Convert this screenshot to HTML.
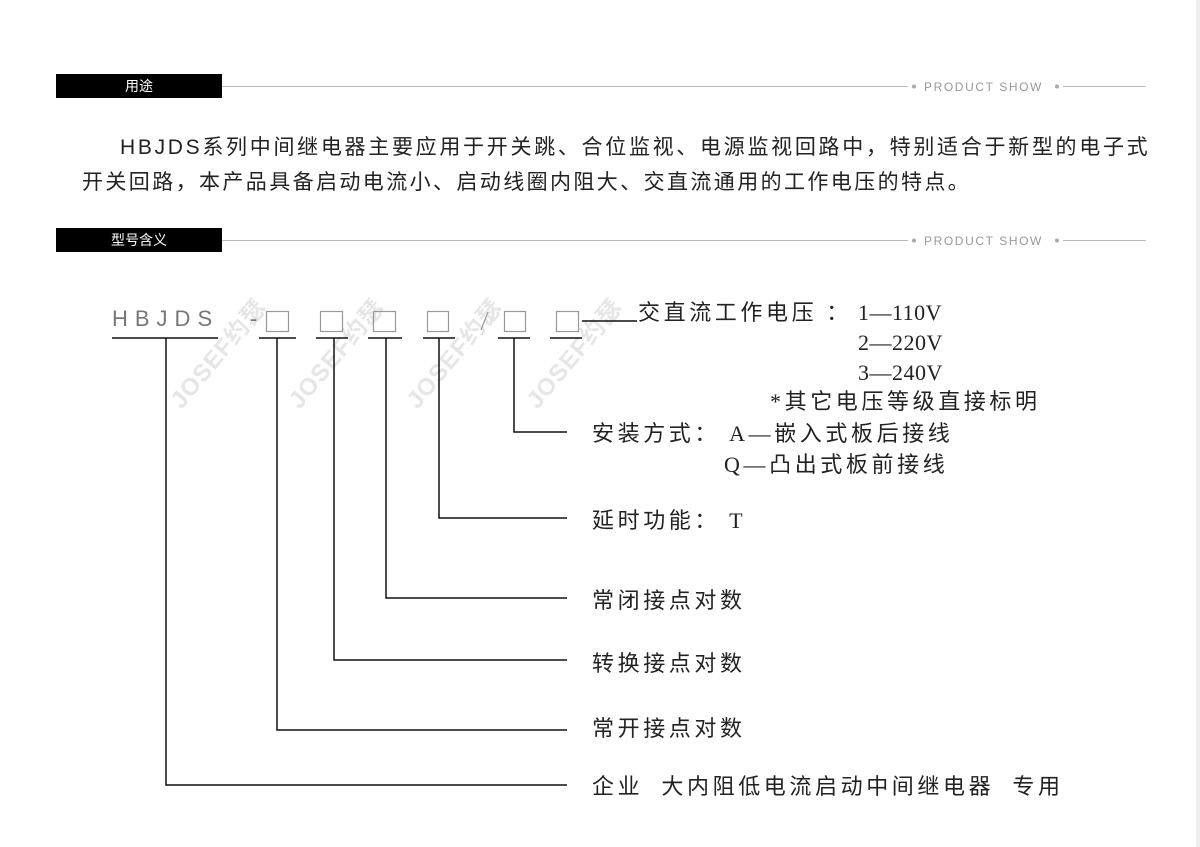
<!DOCTYPE html>
<html><head><meta charset="utf-8"><style>
html,body{margin:0;padding:0;background:#fff;}
body{width:1200px;height:847px;position:relative;overflow:hidden;font-family:"Liberation Sans","Noto Sans CJK SC",sans-serif;}
.a{position:absolute;white-space:nowrap;}
.hd{position:absolute;left:56px;width:166px;height:24px;background:#000;color:#fff;font-size:14px;line-height:24px;text-align:center;}
.ps{position:absolute;left:924px;font-size:12px;letter-spacing:1.6px;color:#999;}
.p{font-size:21px;letter-spacing:2.4px;color:#222;}
.d{font-family:"Liberation Serif","Noto Sans CJK SC",sans-serif;font-size:22px;letter-spacing:3.6px;color:#222;line-height:30px;}
.wm{position:absolute;font-size:24px;font-weight:bold;color:#e6e6e6;transform:rotate(-50deg);transform-origin:left top;letter-spacing:1px;}
</style></head><body>
<div class="wm" style="left:160px;top:392px">JOSEF约瑟</div>
<div class="wm" style="left:278px;top:392px">JOSEF约瑟</div>
<div class="wm" style="left:396px;top:392px">JOSEF约瑟</div>
<div class="wm" style="left:516px;top:392px">JOSEF约瑟</div>
<svg class="a" style="left:0;top:0" width="1200" height="847">
<rect x="1196" y="0" width="4" height="847" fill="#eee"/>
<g stroke="#bbb" stroke-width="1">
<line x1="222" y1="86.5" x2="908" y2="86.5"/><line x1="1063" y1="86.5" x2="1146" y2="86.5"/>
<line x1="222" y1="240.5" x2="908" y2="240.5"/><line x1="1063" y1="240.5" x2="1146" y2="240.5"/>
</g>
<g fill="#aaa"><circle cx="914" cy="86.5" r="2"/><circle cx="1057" cy="86.5" r="2"/><circle cx="914" cy="240.5" r="2"/><circle cx="1057" cy="240.5" r="2"/></g>
<g fill="none" stroke="#999" stroke-width="1.2">
<rect x="266.5" y="311.5" width="22" height="20"/><rect x="320.5" y="311.5" width="22" height="20"/>
<rect x="373.5" y="311.5" width="22" height="20"/><rect x="427.5" y="311.5" width="21" height="20"/>
<rect x="504.5" y="311.5" width="21" height="20"/><rect x="556.5" y="311.5" width="22" height="20"/>
<line x1="488" y1="312" x2="481" y2="330"/>
</g>
<g stroke="#111" stroke-width="1.5" fill="none">
<line x1="112" y1="338" x2="218" y2="338"/><line x1="259" y1="338" x2="296" y2="338"/>
<line x1="316" y1="338" x2="348" y2="338"/><line x1="368" y1="338" x2="402" y2="338"/>
<line x1="423" y1="338" x2="455" y2="338"/><line x1="498" y1="338" x2="530" y2="338"/>
<line x1="550" y1="338" x2="582" y2="338"/>
<line x1="582" y1="321" x2="637" y2="321"/>
<polyline points="514,338 514,432 567,432"/>
<polyline points="439,338 439,518 567,518"/>
<polyline points="386,338 386,598 567,598"/>
<polyline points="334,338 334,660 567,660"/>
<polyline points="277,338 277,730 567,730"/>
<polyline points="166,338 166,785 567,785"/>
</g>
</svg>
<div class="hd" style="top:74px">用途</div>
<div class="ps" style="top:80px">PRODUCT SHOW</div>
<div class="hd" style="top:228px">型号含义</div>
<div class="ps" style="top:234px">PRODUCT SHOW</div>
<div class="a p" style="left:120px;top:131px;letter-spacing:2.7px">HBJDS系列中间继电器主要应用于开关跳、合位监视、电源监视回路中，特别适合于新型的电子式</div>
<div class="a p" style="left:82px;top:166px">开关回路，本产品具备启动电流小、启动线圈内阻大、交直流通用的工作电压的特点。</div>
<div class="a" style="left:112px;top:306px;font-size:22px;letter-spacing:7px;color:#777">HBJDS</div>
<div class="a" style="left:250px;top:306px;font-size:22px;color:#777">-</div>
<div class="a d" style="left:638px;top:298px">交直流工作电压 ：</div>
<div class="a d" style="left:858px;top:298px;letter-spacing:0.5px">1—110V</div>
<div class="a d" style="left:858px;top:328px;letter-spacing:0.5px">2—220V</div>
<div class="a d" style="left:858px;top:358px;letter-spacing:0.5px">3—240V</div>
<div class="a d" style="left:770px;top:387px">*其它电压等级直接标明</div>
<div class="a d" style="left:592px;top:419px">安装方式： A—嵌入式板后接线</div>
<div class="a d" style="left:724px;top:450px">Q—凸出式板前接线</div>
<div class="a d" style="left:592px;top:506px">延时功能： T</div>
<div class="a d" style="left:592px;top:586px">常闭接点对数</div>
<div class="a d" style="left:592px;top:649px">转换接点对数</div>
<div class="a d" style="left:592px;top:714px">常开接点对数</div>
<div class="a d" style="left:592px;top:772px">企业&nbsp; 大内阻低电流启动中间继电器&nbsp; 专用</div>
</body></html>
